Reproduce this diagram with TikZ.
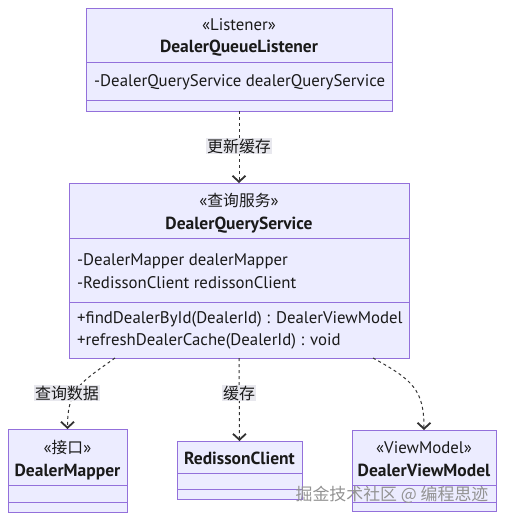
\documentclass[tikz,border=0pt]{standalone}
\usepackage{fontspec}
\setmainfont{PT Sans}
\newfontfamily\cjk{Noto Sans CJK SC}[Scale=0.94]
\usetikzlibrary{arrows.meta,calc}
\definecolor{boxfill}{HTML}{ECECFF}
\definecolor{boxline}{HTML}{9370DB}
\definecolor{txt}{HTML}{1A1A1A}
\definecolor{edge}{HTML}{333333}
\definecolor{lblbg}{HTML}{E8E8EE}
\tikzset{
  classbox/.style={draw=boxline,fill=boxfill,line width=1pt,inner sep=0pt,outer sep=0pt},
  divider/.style={draw=boxline,line width=1pt},
  tx/.style={inner sep=0pt,text=txt,font=\fontsize{16.8}{20}\selectfont},
  title/.style={tx,font=\fontsize{17.5}{20}\selectfont\bfseries},
  member/.style={tx,anchor=west},
  dep/.style={draw=edge,line width=1pt,dash pattern=on 3pt off 3pt,
    -{Straight Barb[length=6pt,width=13pt,line width=1.8pt]}},
  lbl/.style={fill=lblbg,inner sep=1pt,text=txt,font=\fontsize{17}{20}\selectfont\cjk},
}
\begin{document}
\begin{tikzpicture}[x=1pt,y=-1pt]
\useasboundingbox (0,0) rectangle (504,520);
\fill[white] (0,0) rectangle (504,520);
% Box 1
\node[classbox,minimum width=306pt,minimum height=103pt] (lis) at (239,59.5) {};
\draw[divider] (86,62) -- (392,62);
\draw[divider] (86,100) -- (392,100);
\node[tx] (lisS) at (239,25) {«Listener»};
\node[title] (lisT) at (239,48) {DealerQueueListener};
\node[member] (lisA) at (94,82) {-DealerQueryService dealerQueryService};
% Box 2
\node[classbox,minimum width=340pt,minimum height=175pt] (svc) at (239,270.5) {};
\draw[divider] (69,238) -- (409,238);
\draw[divider] (69,302) -- (409,302);
\node[tx] (svcS) at (239,200) {«{\cjk 查询服务}»};
\node[title] (svcT) at (239,225) {DealerQueryService};
\node[member] (svcA1) at (77,261) {-DealerMapper dealerMapper};
\node[member] (svcA2) at (77,283) {-RedissonClient redissonClient};
\node[member] (svcM1) at (77,319) {+findDealerById(DealerId) : DealerViewModel};
\node[member] (svcM2) at (77,341) {+refreshDealerCache(DealerId) : void};
% Box 3
\node[classbox,minimum width=119pt,minimum height=83pt] (map) at (67.5,470.5) {};
\draw[divider] (8,485) -- (127,485);
\draw[divider] (8,502) -- (127,502);
\node[tx] (mapS) at (67.5,448) {«{\cjk 接口}»};
\node[title] (mapT) at (67.5,472) {DealerMapper};
% Box 4
\node[classbox,minimum width=125pt,minimum height=58pt] (red) at (239.5,470) {};
\draw[divider] (177,473) -- (302,473);
\draw[divider] (177,489) -- (302,489);
\node[title] (redT) at (239.5,458) {RedissonClient};
% Box 5
\node[classbox,minimum width=144pt,minimum height=81pt] (vm) at (424,470.5) {};
\draw[divider] (352,485) -- (496,485);
\draw[divider] (352,502) -- (496,502);
\node[tx] (vmS) at (424,448) {«ViewModel»};
\node[title] (vmT) at (424,470) {DealerViewModel};
% Edges
\draw[dep] (lis.south) -- (svc.north);
\node[lbl] (l1) at (239,146) {更新缓存};
\coordinate (s1) at ($(svc.south west)+(46,0)$);
\coordinate (s3) at ($(svc.south west)+(304,0)$);
\draw[dep] (s1) .. controls ($(s1)+(-35,25)$) and ($(map.north)+(0,-40)$) .. (map.north);
\draw[dep] (svc.south) -- (red.north);
\draw[dep] (s3) .. controls ($(s3)+(40,22)$) and ($(vm.north)+(0,-40)$) .. (vm.north);
\node[lbl] (l2) at (67,393) {查询数据};
\node[lbl] (l3) at (239,393) {缓存};
% watermark
\node[inner sep=0pt,text=gray!85,font=\fontsize{18}{20}\selectfont\cjk] (wm) at (392,495) {掘金技术社区 @ 编程思迹};
\end{tikzpicture}
\end{document}
